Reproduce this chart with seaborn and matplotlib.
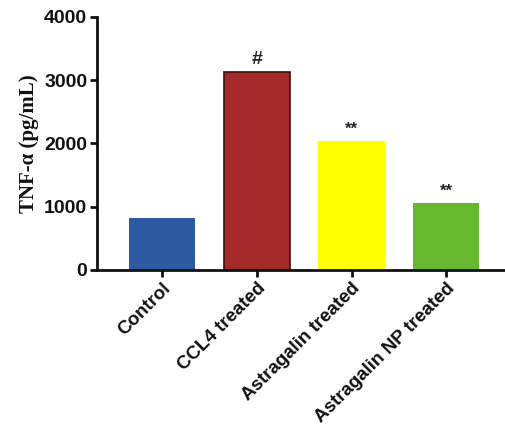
import matplotlib
matplotlib.use("Agg")
from matplotlib import pyplot as plt
import pandas as pd
import seaborn as sns

# data
groups = ["Control", "CCL4 treated", "Astragalin treated", "Astragalin NP treated"]
tnf = [827, 3130, 2032, 1059]
marks = ["", "#", "**", "**"]
colors = ["#2C5AA0", "#A3292B", "#FFFF00", "#66B82E"]
y_ticks = [0, 1000, 2000, 3000, 4000]

df = pd.DataFrame({"group": groups, "tnf": tnf})

sns.set_style("ticks")
plt.rcParams["font.family"] = ["Liberation Sans", "DejaVu Sans"]

fig = plt.figure(figsize=(5.05, 4.34), dpi=100)
ax = fig.add_axes([0.192, 0.378, 0.808, 0.583])

sns.barplot(data=df, x="group", y="tnf", hue="group", palette=colors,
            legend=False, width=0.7, ax=ax, saturation=1, linewidth=0)
# dark outline only on CCL4 bar, like the original
ax.patches[1].set_edgecolor("#3a1010")
ax.patches[1].set_linewidth(1.2)

# significance marks above bars
for i, (v, m) in enumerate(zip(tnf, marks)):
    if m:
        ax.text(i, v + 70, m, ha="center", va="bottom",
                fontsize=14 if m == "#" else 12, fontweight="bold", color="#222222")

ax.set_xlim(-0.69, 3.62)
ax.set_ylim(0, 4000)
ax.set_yticks(y_ticks)
ax.set_yticklabels([str(t) for t in y_ticks], fontsize=14, fontweight="bold", color="#111111")
ax.set_xticks(range(len(groups)))
ax.set_xticklabels(groups, rotation=45, ha="right", rotation_mode="anchor",
                   fontsize=13.5, fontweight="bold", color="#111111")
ax.set_xlabel("")
ax.set_ylabel("TNF-α (pg/mL)", fontsize=15, fontweight="bold", color="#111111",
              family=["Liberation Serif", "DejaVu Serif"], labelpad=4)

for s in ["left", "bottom"]:
    ax.spines[s].set_linewidth(2)
    ax.spines[s].set_color("#111111")
sns.despine(ax=ax)
ax.tick_params(axis="both", width=2, length=5, color="#111111", pad=2)

fig.savefig("out.png", dpi=100)
